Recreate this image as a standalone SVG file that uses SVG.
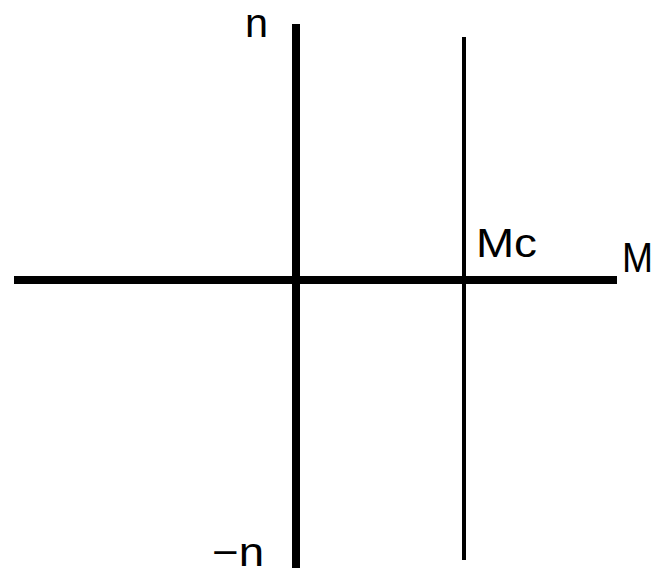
<svg xmlns="http://www.w3.org/2000/svg" width="657" height="575" viewBox="0 0 657 575">
<style>
.lbl{font-family:"Liberation Sans",Arial,sans-serif;fill:#000}
.thick{stroke:#000;stroke-width:8}
.thin{stroke:#000;stroke-width:4}
</style>
<rect width="657" height="575" fill="#fff"/>
<g id="axes">
<line id="n-axis" class="thick" x1="296" y1="24" x2="296" y2="568"/>
<line id="m-axis" class="thick" x1="14" y1="280" x2="617" y2="280"/>
<line id="mc-line" class="thin" x1="464" y1="37" x2="464" y2="560"/>
</g>
<g id="labels">
<text id="lbl-n" class="lbl" x="245" y="37" font-size="40" textLength="23" lengthAdjust="spacingAndGlyphs">n</text>
<text id="lbl-negn" class="lbl" x="212" y="566" font-size="40" textLength="52" lengthAdjust="spacingAndGlyphs">−n</text>
<text id="lbl-mc" class="lbl" x="476" y="257" font-size="40" textLength="61" lengthAdjust="spacingAndGlyphs">Mc</text>
<text id="lbl-m" class="lbl" x="622" y="272" font-size="42" textLength="31" lengthAdjust="spacingAndGlyphs">M</text>
</g>
</svg>
